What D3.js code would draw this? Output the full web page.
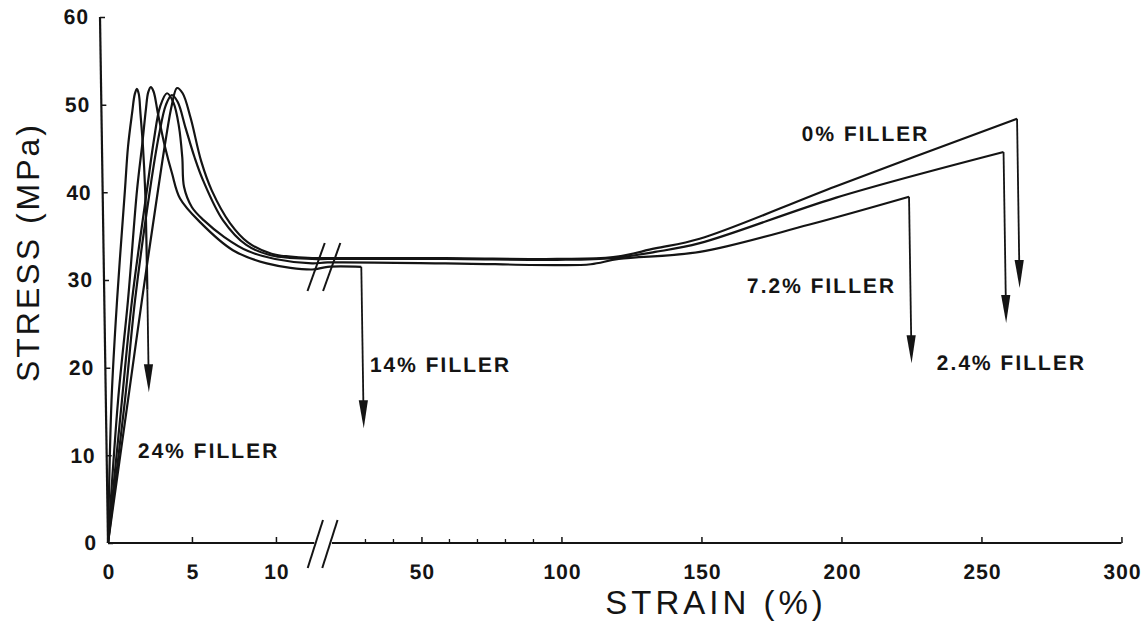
<!DOCTYPE html>
<html>
<head>
<meta charset="utf-8">
<script src="https://cdn.jsdelivr.net/npm/d3@7"></script>
<style>
  body { margin: 0; background: #fff; }
  svg text { font-family: "Liberation Sans", Arial, sans-serif; fill: #141414; }
</style>
</head>
<body>
<script>
// stress (MPa) against strain (%) for each filler content
const filler0  = [[0,0],[1.32,16.3],[2.24,27.7],[3.3,40.3],[3.8,46],[4.2,50],[4.52,51.9],[4.85,51.3],[5.3,48.5],[5.9,43.5],[6.5,40.2],[7.55,36.5],[8.6,34.3],[10,33.0],[12.4,32.5],[18,32.5],[60,32.5],[100,32.4],[120,32.6],[135,33.6],[151,34.7],[200,40.7],[265,48.4]];
const filler24 = [[0,0],[0.34,16.3],[0.76,27.7],[1.33,40.3],[1.55,45.2],[1.82,49.0],[2.0,51.2],[2.13,51.8],[2.24,51.2],[2.32,49.0],[2.44,45.2],[2.53,40.3],[2.56,34.5],[2.57,28.9]];
const filler14 = [[0,0],[0.73,16.3],[1.41,27.7],[2.05,40.3],[2.4,45.5],[2.65,49.5],[2.8,51.4],[2.96,52.0],[3.12,51.5],[3.36,49.0],[3.75,45.2],[4.14,42.2],[4.6,39.3],[5.77,36.6],[7.7,33.4],[9.7,31.9],[12.4,31.2],[18,31.5],[30,31.5]];
const filler72 = [[0,0],[0.96,16.3],[1.65,27.7],[2.64,40.3],[3.1,46],[3.5,49.8],[3.92,51.3],[4.3,50.2],[4.6,47.5],[4.77,44],[4.85,40.6],[5.3,38.3],[6.0,36.8],[7.2,34.9],[8.6,33.3],[10.2,32.4],[12.4,31.9],[18,32.0],[60,31.9],[100,31.7],[112,31.8],[122,32.4],[151,33.2],[190,36.3],[226,39.5]];
const filler24b = [[0,0],[1.14,16.3],[1.83,27.7],[2.82,40.3],[3.4,46.5],[3.85,50],[4.21,51.1],[4.55,50.3],[5.0,47.3],[5.5,44],[5.98,41.4],[7.14,36.8],[8.5,34.0],[10,32.8],[12.4,32.4],[18,32.4],[60,32.4],[100,32.3],[120,32.5],[135,33.2],[151,34.2],[200,39.4],[260,44.6]];

// stress that each fracture arrow points down to
const fractureTips = [29.1, 25.1, 20.5, 13.1, 17.2];
const seriesNames = ["0% FILLER", "2.4% FILLER", "7.2% FILLER", "14% FILLER", "24% FILLER"];
const seriesData = [filler0, filler24b, filler72, filler14, filler24];
// where each label starts, in [strain, stress]
const labelAt = [[188, 45.9], [235, 19.7], [167.6, 28.5], [32.5, 19.5], [1.86, 9.7]];

const yTicks = [0, 10, 20, 30, 40, 50, 60];
const xTicksLow = [0, 5, 10];
const xTicksHigh = [50, 100, 150, 200, 250, 300];
const xMinor = [30, 40, 60, 70, 80, 90];

const W = 1145, H = 621;
const lowMax = 12.4, highMin = 18;

const svg = d3.select("body").append("svg")
  .attr("width", W).attr("height", H);

// scan is slightly sheared: the top of the y axis sits a few px left
const shear = 0.0152, baseY = 543;
const g = svg.append("g")
  .attr("transform", `matrix(1,0,${shear},1,${-shear * baseY},0)`);

const y = d3.scaleLinear().domain([0, 60]).range([543, 17]);
const xL = d3.scaleLinear().domain([0, 5]).range([108, 192]);
const xR = d3.scaleLinear().domain([50, 300]).range([421.5, 1121.5]);
const X = s => s <= lowMax ? xL(s) : xR(s);

const ink = "#141414";
const fmt = d3.format("d");

// axes lines
g.append("line")
  .attr("x1", xL(0)).attr("x2", xL(0))
  .attr("y1", y(0)).attr("y2", y(60))
  .attr("stroke", ink).attr("stroke-width", 2.2);
g.append("line")
  .attr("x1", xL(0)).attr("x2", xL(lowMax) - 2)
  .attr("y1", y(0)).attr("y2", y(0))
  .attr("stroke", ink).attr("stroke-width", 2);
g.append("line")
  .attr("x1", xR(highMin)).attr("x2", xR(300))
  .attr("y1", y(0)).attr("y2", y(0))
  .attr("stroke", ink).attr("stroke-width", 2);

function styleTicks(a) {
  a.select(".domain").remove();
  a.selectAll("line").attr("stroke", ink).attr("stroke-width", 1.5);
  a.selectAll("text").attr("font-size", 21).attr("font-weight", "bold")
    .attr("letter-spacing", 1).attr("fill", ink)
    .style("font-family", "Liberation Sans, Arial, sans-serif");
}

// y ticks + labels
const yAxis = d3.axisLeft(y).tickValues(yTicks).tickFormat(fmt).tickSize(-5).tickPadding(11);
styleTicks(g.append("g").attr("transform", `translate(${xL(0)},0)`).call(yAxis));

// x ticks + labels, two segments
function xAxisPart(scale, vals) {
  const ax = d3.axisBottom(scale).tickValues(vals).tickFormat(fmt).tickSize(-6).tickPadding(21);
  styleTicks(g.append("g").attr("transform", `translate(0,${y(0)})`).call(ax));
}
xAxisPart(xL, xTicksLow);
xAxisPart(xR, xTicksHigh);
g.selectAll(".minor").data(xMinor).enter().append("line")
  .attr("x1", d => xR(d)).attr("x2", d => xR(d))
  .attr("y1", y(0)).attr("y2", y(0) - 4)
  .attr("stroke", ink).attr("stroke-width", 1.3);

// break marks
function slashes(cx, cy, dx, dy) {
  g.append("line")
    .attr("x1", cx - dx).attr("y1", cy + dy)
    .attr("x2", cx + dx).attr("y2", cy - dy)
    .attr("stroke", ink).attr("stroke-width", 2);
}
slashes(xL(lowMax) - 1, y(0) + 1, 8, 24);
slashes(xR(highMin) - 2, y(0) + 1, 8, 24);
slashes(xL(lowMax) + 4, 267, 9, 24);
slashes(xR(highMin) + 4, 267, 9, 24);

// curves
const line = d3.line()
  .x(d => X(d[0])).y(d => y(d[1]))
  .curve(d3.curveCatmullRom.alpha(0.5));

g.selectAll(".curve").data(seriesData).enter().append("path")
  .attr("class", "curve")
  .attr("d", line)
  .attr("fill", "none")
  .attr("stroke", ink)
  .attr("stroke-width", 2.2)
  .attr("stroke-linejoin", "round");

// fracture arrows
const headLen = 28, headW = 4.6;
seriesData.forEach((pts, i) => {
  const last = pts[pts.length - 1];
  const ax = X(last[0]);
  const y0 = y(last[1]);
  const tip = y(fractureTips[i]);
  g.append("line")
    .attr("x1", ax).attr("x2", ax)
    .attr("y1", y0).attr("y2", tip - headLen + 2)
    .attr("stroke", ink).attr("stroke-width", 1.8);
  g.append("path")
    .attr("d", `M${ax - headW},${tip - headLen}L${ax + headW},${tip - headLen}L${ax},${tip}Z`)
    .attr("fill", ink);
});

// series labels
g.selectAll(".lbl").data(seriesNames).enter().append("text")
  .attr("x", (d, i) => X(labelAt[i][0]))
  .attr("y", (d, i) => y(labelAt[i][1]))
  .attr("font-size", 21)
  .attr("font-weight", "bold")
  .attr("letter-spacing", 2)
  .text(d => d);

// axis titles
svg.append("text")
  .attr("transform", "translate(39,252) rotate(-90)")
  .attr("text-anchor", "middle")
  .attr("font-size", 32)
  .attr("letter-spacing", 3)
  .text("STRESS (MPa)");

svg.append("text")
  .attr("x", 716).attr("y", 614)
  .attr("text-anchor", "middle")
  .attr("font-size", 33)
  .attr("letter-spacing", 4)
  .text("STRAIN (%)");
</script>
</body>
</html>
